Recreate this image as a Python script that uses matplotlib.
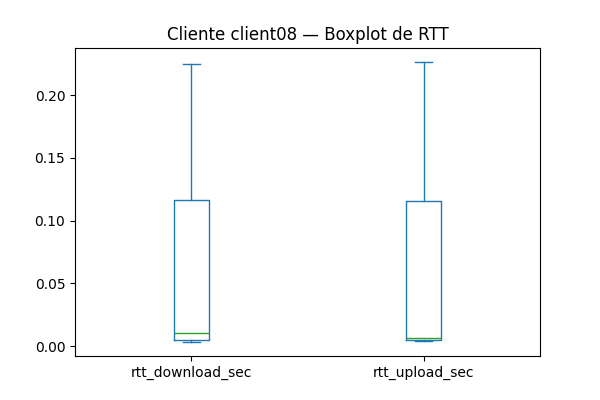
import matplotlib
matplotlib.use("Agg")
import matplotlib.pyplot as plt

# valores (segundos)
columnas = ["rtt_download_sec", "rtt_upload_sec"]
bigote_inf = [0.0032, 0.0040]
q1 = [0.0048, 0.0046]
mediana = [0.0104, 0.0060]
q3 = [0.1163, 0.1155]
bigote_sup = [0.2247, 0.2263]

stats = []
for i in range(len(columnas)):
    stats.append({
        "label": columnas[i],
        "whislo": bigote_inf[i],
        "q1": q1[i],
        "med": mediana[i],
        "q3": q3[i],
        "whishi": bigote_sup[i],
        "fliers": [],
    })

fig, ax = plt.subplots(figsize=(6, 4), dpi=100)
ax.bxp(stats, showfliers=False,
       boxprops=dict(color="C0"),
       whiskerprops=dict(color="C0"),
       capprops=dict(color="C0"),
       medianprops=dict(color="C2"))
ax.set_title("Cliente client08 — Boxplot de RTT")
fig.savefig("out.png")
